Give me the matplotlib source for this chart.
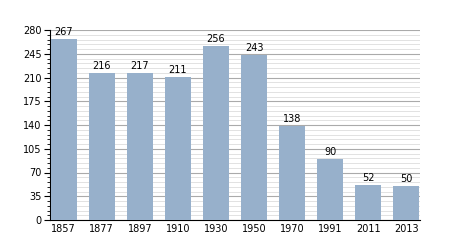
import matplotlib
matplotlib.use("Agg")
import matplotlib.pyplot as plt
from matplotlib.ticker import MultipleLocator

years = ["1857", "1877", "1897", "1910", "1930", "1950", "1970", "1991", "2011", "2013"]
population = [267, 216, 217, 211, 256, 243, 138, 90, 52, 50]
yTicks = [0, 35, 70, 105, 140, 175, 210, 245, 280]

fig = plt.figure(figsize=(4.5, 2.5), dpi=100)
ax = fig.add_axes([50 / 450, 30 / 250, 370 / 450, 190 / 250])

positions = range(len(years))
ax.bar(positions, population, width=0.69, color="#97b0cb", zorder=3)
for pos, val in zip(positions, population):
    ax.text(pos, val + 3, str(val), ha="center", va="bottom", fontsize=7, zorder=4)

ax.set_xlim(-0.36, len(years) - 0.64)
ax.set_ylim(0, 280)
ax.set_xticks(list(positions))
ax.set_xticklabels(years)
ax.set_yticks(yTicks)
ax.yaxis.set_minor_locator(MultipleLocator(7))
ax.grid(axis="y", which="major", color="#aaaaaa", linewidth=0.8, zorder=1)
ax.grid(axis="y", which="minor", color="#dddddd", linewidth=0.6, zorder=1)

for side in ["top", "right"]:
    ax.spines[side].set_visible(False)
ax.spines["left"].set_linewidth(0.8)
ax.spines["bottom"].set_linewidth(0.8)
ax.tick_params(axis="x", length=0, labelsize=7, pad=3)
ax.tick_params(axis="y", which="major", length=4, labelsize=7, pad=2)
ax.tick_params(axis="y", which="minor", length=2)

fig.savefig("out.png", dpi=100)
